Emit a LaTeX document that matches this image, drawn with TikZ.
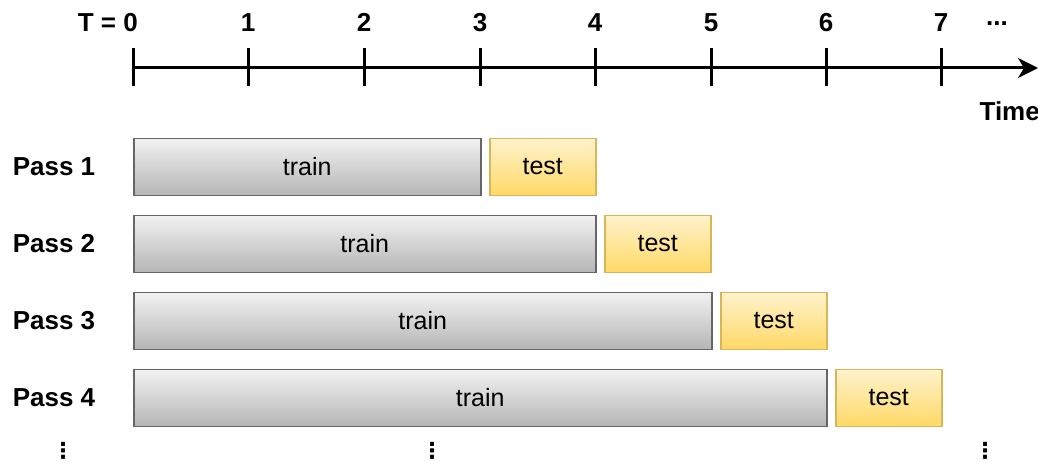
\documentclass[tikz,border=0pt]{standalone}
\usepackage{fontspec}
\setmainfont{Liberation Sans}
\newfontfamily\symfont{DejaVu Sans}
\usetikzlibrary{arrows.meta}
\definecolor{trainTop}{HTML}{F2F2F2}
\definecolor{trainBot}{HTML}{B5B5B5}
\definecolor{trainLine}{HTML}{666666}
\definecolor{testTop}{HTML}{FFF2CC}
\definecolor{testBot}{HTML}{FFD966}
\definecolor{testLine}{HTML}{D6B656}
\tikzset{
  lbl/.style={inner sep=0pt, font=\fontsize{26}{30}\selectfont\bfseries},
  passlbl/.style={inner sep=0pt, font=\fontsize{26}{30}\selectfont\bfseries},
  tick/.style={line width=3pt},
  axis/.style={line width=3pt, -{Stealth[length=20pt,width=20pt,inset=6pt]}},
  trainbox/.style={draw=trainLine, line width=1.5pt, top color=trainTop, bottom color=trainBot,
    inner sep=0pt, font=\fontsize{25}{30}\selectfont},
  testbox/.style={draw=testLine, line width=1.5pt, top color=testTop, bottom color=testBot,
    inner sep=0pt, font=\fontsize{25}{30}\selectfont},
  vdot/.style={inner sep=0pt, font=\symfont\fontsize{22}{24}\selectfont\bfseries},
}
\begin{document}
\begin{tikzpicture}[x=1pt,y=-1pt]
\useasboundingbox (0,0) rectangle (1038,465);
% time axis
\coordinate (a0) at (133,68);
\coordinate (aend) at (1038,68);
\draw[axis] (a0) -- (aend);
\foreach \i/\x in {0/133,1/248,2/364,3/480,4/595,5/711,6/826,7/941}{
  \coordinate (t\i) at (\x,68);
  \draw[tick] (\x,48) -- (\x,86);
}
\node[lbl, anchor=base east] (l0) at (138,32) {T = 0};
\foreach \i/\x in {1/248,2/364,3/480,4/595,5/711,6/826,7/941}{
  \node[lbl, anchor=base] (l\i) at (\x,32) {\i};
}
\node[lbl, anchor=base] (more) at (997,26) {...};
\node[lbl, anchor=base east] (time) at (1040,121) {Time};
% passes
\foreach \p/\y/\e in {1/167/480,2/244/595,3/321/711,4/398/826}{
  \node[passlbl] (p\p) at (54,\y) {Pass \p};
  \node[trainbox, minimum height=57pt, minimum width={\e-133}, anchor=west] (tr\p) at (133,\y) {train};
  \node[testbox, minimum height=57pt, minimum width=106pt, anchor=west] (te\p) at (\e+9,\y) {test};
}
% continuation marks
\node[vdot] (d1) at (63,451) {⋮};
\node[vdot] (d2) at (432,451) {⋮};
\node[vdot] (d3) at (985,451) {⋮};
\end{tikzpicture}
\end{document}
